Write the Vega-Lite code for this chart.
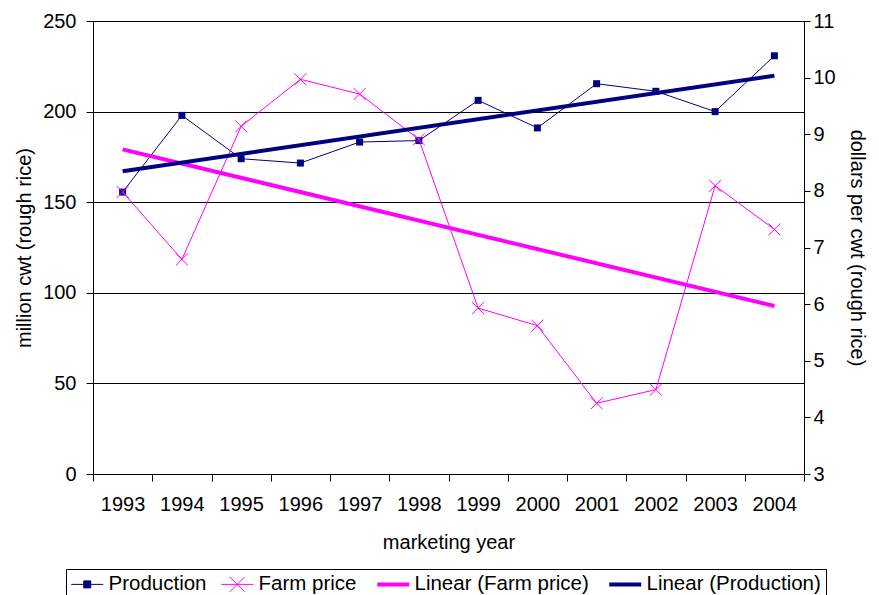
{
  "$schema": "https://vega.github.io/schema/vega-lite/v6.json",
  "width": 711,
  "height": 453,
  "autosize": {"type": "none"},
  "padding": {"left": 93, "top": 21, "right": 75, "bottom": 121},
  "background": "white",
  "config": {
    "font": "Liberation Sans",
    "view": {"stroke": null},
    "axis": {
      "labelFontSize": 20,
      "titleFontSize": 20,
      "titleFontWeight": "normal",
      "labelColor": "black",
      "titleColor": "black",
      "domainColor": "black",
      "tickColor": "black",
      "domainWidth": 1,
      "tickWidth": 1
    }
  },
  "data": {
    "values": [
      {"year": 1993, "production": 155.6, "price": 7.98},
      {"year": 1994, "production": 197.9, "price": 6.79},
      {"year": 1995, "production": 174.0, "price": 9.14},
      {"year": 1996, "production": 171.6, "price": 9.97},
      {"year": 1997, "production": 183.2, "price": 9.71},
      {"year": 1998, "production": 184.0, "price": 8.91},
      {"year": 1999, "production": 206.2, "price": 5.93},
      {"year": 2000, "production": 191.0, "price": 5.62},
      {"year": 2001, "production": 215.4, "price": 4.25},
      {"year": 2002, "production": 211.2, "price": 4.49},
      {"year": 2003, "production": 200.0, "price": 8.09},
      {"year": 2004, "production": 230.8, "price": 7.32}
    ]
  },
  "encoding": {
    "x": {
      "field": "year",
      "type": "quantitative",
      "scale": {"domain": [1992.5, 2004.5], "nice": false, "zero": false},
      "axis": {
        "title": "marketing year",
        "values": [1992.5, 1993.5, 1994.5, 1995.5, 1996.5, 1997.5, 1998.5, 1999.5, 2000.5, 2001.5, 2002.5, 2003.5, 2004.5],
        "labelExpr": "datum.value > 2004 ? '' : format(datum.value + 0.5, 'd')",
        "labelOffset": 29.6,
        "labelOverlap": false,
        "labelBound": false,
        "labelFlush": false,
        "tickSize": 7,
        "labelPadding": 13,
        "titlePadding": 18,
        "grid": false
      }
    }
  },
  "layer": [
    {
      "mark": {"type": "line", "strokeWidth": 1},
      "encoding": {
        "y": {
          "field": "production",
          "type": "quantitative",
          "scale": {"domain": [0, 250], "nice": false},
          "axis": {
            "title": "million cwt (rough rice)",
            "values": [0, 50, 100, 150, 200, 250],
            "grid": true,
            "gridColor": "black",
            "gridOpacity": 1,
            "tickSize": 7,
            "labelPadding": 10,
            "titlePadding": 8
          }
        },
        "color": {
          "datum": "Production",
          "type": "nominal",
          "scale": {
            "domain": ["Production", "Farm price", "Linear (Farm price)", "Linear (Production)"],
            "range": ["#000080", "#FF00FF", "#FF00FF", "#000080"]
          },
          "legend": {
            "title": null,
            "orient": "none",
            "legendX": -27,
            "legendY": 548,
            "direction": "horizontal",
            "columns": 4,
            "strokeColor": "black",
            "padding": 5,
            "labelFontSize": 20.5,
            "labelColor": "black",
            "labelLimit": 400,
            "labelOffset": 17,
            "columnPadding": 12,
            "symbolType": "stroke",
            "symbolSize": 400,
            "encode": {
              "symbols": {
                "update": {
                  "shape": {"signal": "datum.value === 'Production' ? 'M-1,0H2.2M0.25,-0.35H0.95V0.35H0.25Z' : datum.value === 'Farm price' ? 'M-1,0H2.2M-0.15,-0.75L1.35,0.75M-0.15,0.75L1.35,-0.75' : 'M-1,0H2.2'"},
                  "strokeWidth": {"signal": "datum.value === 'Production' || datum.value === 'Farm price' ? 1 : 4"},
                  "fill": {"signal": "datum.value === 'Production' ? '#000080' : 'transparent'"}
                }
              }
            }
          }
        }
      }
    },
    {
      "mark": {"type": "point", "shape": "square", "size": 49, "filled": true, "color": "#000080", "opacity": 1},
      "encoding": {
        "y": {"field": "production", "type": "quantitative", "scale": {"domain": [0, 250], "nice": false}, "axis": null}
      }
    },
    {
      "mark": {"type": "line", "strokeWidth": 1, "color": "#FF00FF"},
      "encoding": {
        "y": {
          "field": "price",
          "type": "quantitative",
          "scale": {"domain": [3, 11], "nice": false, "zero": false},
          "axis": {
            "orient": "right",
            "title": "dollars per cwt (rough rice)",
            "values": [3, 4, 5, 6, 7, 8, 9, 10, 11],
            "grid": false,
            "tickSize": 6,
            "labelPadding": 3,
            "titlePadding": 11
          }
        }
      }
    },
    {
      "mark": {"type": "point", "shape": "M-1,-1L1,1M-1,1L1,-1", "size": 144, "filled": false, "stroke": "#FF00FF", "strokeWidth": 1, "opacity": 1},
      "encoding": {
        "y": {"field": "price", "type": "quantitative", "scale": {"domain": [3, 11], "nice": false, "zero": false}, "axis": null}
      }
    },
    {
      "transform": [{"regression": "price", "on": "year"}],
      "mark": {"type": "line", "strokeWidth": 4, "color": "#FF00FF"},
      "encoding": {
        "y": {"field": "price", "type": "quantitative", "scale": {"domain": [3, 11], "nice": false, "zero": false}, "axis": null}
      }
    },
    {
      "transform": [{"regression": "production", "on": "year"}],
      "mark": {"type": "line", "strokeWidth": 4, "color": "#000080"},
      "encoding": {
        "y": {"field": "production", "type": "quantitative", "scale": {"domain": [0, 250], "nice": false}, "axis": null}
      }
    }
  ],
  "resolve": {"scale": {"y": "independent"}}
}
